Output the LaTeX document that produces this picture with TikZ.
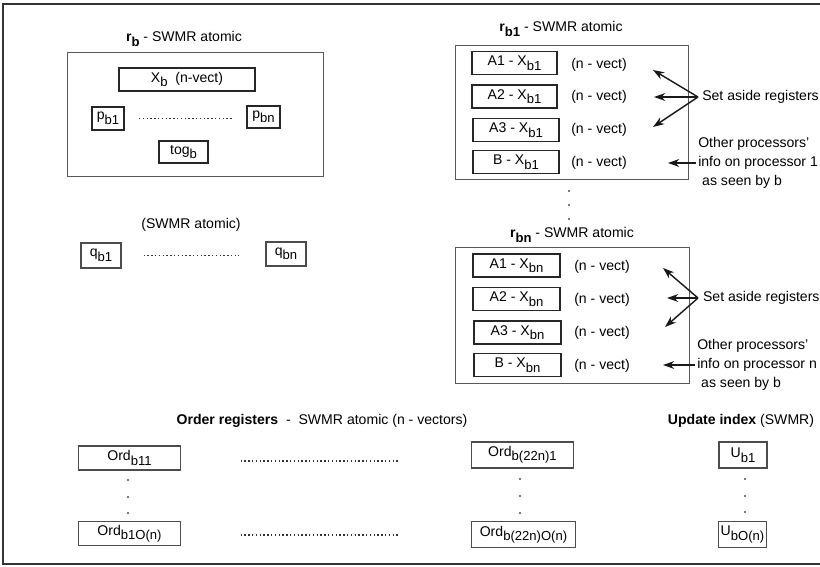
\documentclass[tikz,border=0pt]{standalone}
\usepackage{fontspec}
\setmainfont{Liberation Sans}
\usepackage{tikz}
\usetikzlibrary{
  arrows.meta,
  calc,
  positioning
}
\newcommand{\lsub}[1]{\raisebox{-0.6ex}{\fontsize{9.3}{10}\selectfont #1}}
\tikzset{
  holder/.style={
    rectangle,
    draw=black!65,
    line width=0.7pt,
    inner sep=0pt
  }
}
\tikzset{
  reg/.style={
    rectangle,
    draw=black!85,
    line width=1.2pt,
    inner sep=0pt,
    font=\normalsize
  }
}
\tikzset{
  heavy reg/.style={
    reg,
    line width=1.5pt
  }
}
\tikzset{
  light reg/.style={
    reg,
    draw=black!70,
    line width=0.8pt
  }
}
\tikzset{
  a reg/.style={
    reg,
    minimum width=2.14cm,
    minimum height=0.57cm
  }
}
\tikzset{
  caption/.style={
    inner sep=1pt,
    font=\normalsize
  }
}
\tikzset{
  side note/.style={
    inner ysep=1pt,
    align=left,
    anchor=west,
    font={\fontsize{10}{13.5}\selectfont}
  }
}
\tikzset{
  pointer/.style={
    -{Stealth[length=8pt,width=5.6pt]},
    draw=black!90,
    line width=1pt
  }
}
\tikzset{
  dot line/.style={
    draw=black!80,
    line width=1pt,
    dash pattern=on 1pt off 1.7pt
  }
}
\tikzset{
  dot/.style={
    fill=black!70
  }
}
\tikzset{
  frame/.style={
    draw=black!80,
    line width=1.3pt
  }
}

\begin{document}
\begin{tikzpicture}[x=0.025cm,y=-0.025cm]

    \useasboundingbox (0,0) rectangle (820,566);
    \draw[frame] (820,4) -- (3,4) -- (3,564) -- (820,564);

    % ------------------------------------------------------------
    % Register r_b
    % ------------------------------------------------------------

    \node[caption] (rbtitle) at (184,39) {\textbf{r\lsub{b}} - SWMR atomic};
    \node[holder, minimum width=6.375cm, minimum height=3.075cm] (rb) at (195.5,114.5) {};
    \node[heavy reg, minimum width=3.4cm, minimum height=0.575cm] (xb) at (187,79.5) {X\lsub{b}\ \ (n-vect)};
    \node[heavy reg, minimum width=0.8cm, minimum height=0.575cm] (pb1) at (108,118.5) {p\lsub{b1}};
    \node[heavy reg, minimum width=0.825cm, minimum height=0.55cm] (pbn) at (263.5,117) {p\lsub{bn}};
    \node[heavy reg, minimum width=1.225cm, minimum height=0.55cm] (togb) at (183.5,152) {tog\lsub{b}};

    \draw[dot line, shorten <=0.35cm, shorten >=0.35cm]
      (pb1.east) -- (pb1.east -| pbn.west);

    % ------------------------------------------------------------
    % Registers q
    % ------------------------------------------------------------

    \node[caption] (qtitle) at (191,225) {(SWMR atomic)};
    \node[light reg, minimum width=1cm, minimum height=0.625cm] (qb1) at (101,255.5) {q\lsub{b1}};
    \node[light reg, minimum width=1cm, minimum height=0.6cm] (qbn) at (286,254) {q\lsub{bn}};

    \draw[dot line, shorten <=0.55cm, shorten >=0.65cm]
      (qb1.east) -- (qb1.east -| qbn.west);

    % ------------------------------------------------------------
    % Register r_b1
    % ------------------------------------------------------------

    \node[caption] (rb1title) at (561,29) {\textbf{r\lsub{b1}} - SWMR atomic};
    \node[holder, minimum width=5.8cm, minimum height=3.325cm] (rb1) at (572,112.5) {};
    \node[a reg] (a11) at (514.5,63) {A1 - X\lsub{b1}};
    \node[a reg] (a12) at (514.5,96.5) {A2 - X\lsub{b1}};
    \node[a reg] (a13) at (516,130) {A3 - X\lsub{b1}};
    \node[a reg] (b1) at (516,162) {B - X\lsub{b1}};
    \node[caption] (v11) at (599,65) {(n - vect)};
    \node[caption] (v12) at (599,97) {(n - vect)};
    \node[caption] (v13) at (599,130) {(n - vect)};
    \node[caption] (v14) at (599,163) {(n - vect)};

    \node[caption, anchor=west, inner xsep=0.1cm] (aside1) at (698,97) {Set aside registers};
    \node[side note, inner xsep=0.05cm] (other1) at (696,163)
    {
      Other processors'\\
      info on processor 1\\
      \hspace*{2.8pt}as seen by b
    };

    \coordinate (tip11) at (653,70);
    \coordinate (tip12) at (654,97);
    \coordinate (tip13) at (653,127);
    \coordinate (tip14) at (668,163);

    \draw[pointer] (aside1.west) -- (tip11);
    \draw[pointer] (aside1.west) -- (tip12);
    \draw[pointer] (aside1.west) -- (tip13);
    \draw[pointer] (other1.west) -- (tip14);

    \fill[dot] (569,191) circle (0.8pt);
    \fill[dot] (569,205) circle (0.8pt);
    \fill[dot] (569,219) circle (0.8pt);

    % ------------------------------------------------------------
    % Register r_bn
    % ------------------------------------------------------------

    \node[caption] (rbntitle) at (572,235) {\textbf{r\lsub{bn}} - SWMR atomic};
    \node[holder, minimum width=5.825cm, minimum height=3.375cm] (rbn) at (572.5,315.5) {};
    \node[a reg, minimum width=2.18cm] (an1) at (516.5,265.5) {A1 - X\lsub{bn}};
    \node[a reg, minimum width=2.18cm] (an2) at (516.5,299) {A2 - X\lsub{bn}};
    \node[a reg, minimum width=2.18cm] (an3) at (517.5,332.5) {A3 - X\lsub{bn}};
    \node[a reg, minimum width=2.18cm] (bn) at (517.5,365) {B - X\lsub{bn}};
    \node[caption] (vn1) at (602,267) {(n - vect)};
    \node[caption] (vn2) at (602,300) {(n - vect)};
    \node[caption] (vn3) at (602,333) {(n - vect)};
    \node[caption] (vn4) at (602,366) {(n - vect)};

    \node[caption, anchor=west, inner xsep=0.12cm] (asiden) at (698,298) {Set aside registers};
    \node[side note, inner xsep=0.05cm] (othern) at (695,365)
    {
      Other processors'\\
      info on processor n\\
      \hspace*{2.8pt}as seen by b
    };

    \coordinate (tipn1) at (663,268);
    \coordinate (tipn2) at (667,298);
    \coordinate (tipn3) at (665,327);
    \coordinate (tipn4) at (663,365);

    \draw[pointer] (asiden.west) -- (tipn1);
    \draw[pointer] (asiden.west) -- (tipn2);
    \draw[pointer] (asiden.west) -- (tipn3);
    \draw[pointer] (othern.west) -- (tipn4);

    % ------------------------------------------------------------
    % Order registers
    % ------------------------------------------------------------

    \node[caption] (ordtitle) at (322,421) {\textbf{Order registers}\ \ -\ \ SWMR atomic (n - vectors)};
    \node[light reg, minimum width=2.53cm, minimum height=0.6cm] (ord11) at (129.5,458) {Ord\lsub{b11}};
    \node[light reg, minimum width=2.53cm, minimum height=0.58cm] (ord1n) at (129.5,533.5) {Ord\lsub{b1O(n)}};
    \node[light reg, minimum width=2.53cm, minimum height=0.65cm] (ord21) at (522.5,455) {Ord\lsub{b(22n)1}};
    \node[light reg, minimum width=2.58cm, minimum height=0.63cm] (ord2n) at (523.5,534.5) {Ord\lsub{b(22n)O(n)}};

    \draw[dot line, shorten <=1.5cm, shorten >=1.8cm]
      ([yshift=-2pt]ord11.east) -- ([yshift=-2pt]ord11.east -| ord21.west);
    \draw[dot line, shorten <=1.5cm, shorten >=1.8cm]
      ([yshift=-1pt]ord1n.east) -- ([yshift=-1pt]ord1n.east -| ord2n.west);

    \fill[dot] (128,480) circle (0.8pt);
    \fill[dot] (128,497) circle (0.8pt);
    \fill[dot] (128,513) circle (0.8pt);
    \fill[dot] (520,479) circle (0.8pt);
    \fill[dot] (520,496) circle (0.8pt);
    \fill[dot] (520,513) circle (0.8pt);

    % ------------------------------------------------------------
    % Update index
    % ------------------------------------------------------------

    \node[caption] (updtitle) at (741,421) {\textbf{Update index} (SWMR)};
    \node[light reg, minimum width=1.2cm, minimum height=0.65cm] (u1) at (743,455) {U\lsub{b1}};
    \node[light reg, minimum width=1.18cm, minimum height=0.63cm] (un) at (742.5,534.5) {U\lsub{bO(n)}};

    \fill[dot] (745,479) circle (0.8pt);
    \fill[dot] (745,496) circle (0.8pt);
    \fill[dot] (745,512) circle (0.8pt);

    \end{tikzpicture}
\end{document}
